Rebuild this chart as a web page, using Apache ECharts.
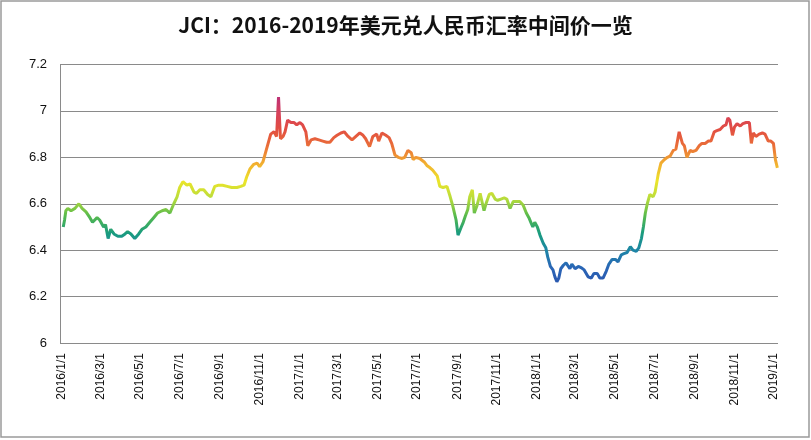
<!DOCTYPE html>
<html><head><meta charset="utf-8">
<script src="https://cdn.jsdelivr.net/npm/echarts@6/dist/echarts.min.js"></script>
<style>html,body{margin:0;padding:0;background:#fff}#c{width:811px;height:440px}</style>
</head><body><div id="c"></div><script>
const titleText = 'JCI：2016-2019年美元兑人民币汇率中间价一览';

const dates = [
'2016-01-04','2016-01-06','2016-01-08','2016-01-11','2016-01-16','2016-01-22','2016-01-28',
'2016-02-02','2016-02-08','2016-02-14','2016-02-18','2016-02-25','2016-02-29',
'2016-03-06','2016-03-09','2016-03-13','2016-03-17','2016-03-22','2016-03-28',
'2016-04-03','2016-04-08','2016-04-12','2016-04-17','2016-04-23','2016-04-29',
'2016-05-04','2016-05-10','2016-05-16','2016-05-22','2016-05-28',
'2016-06-04','2016-06-10','2016-06-16','2016-06-22','2016-06-27',
'2016-07-01','2016-07-06','2016-07-12','2016-07-17','2016-07-23','2016-07-27',
'2016-08-01','2016-08-07','2016-08-13','2016-08-18','2016-08-24','2016-08-30',
'2016-09-05','2016-09-12','2016-09-19','2016-09-27',
'2016-10-03','2016-10-08','2016-10-12','2016-10-17','2016-10-23','2016-10-28',
'2016-11-01','2016-11-06','2016-11-11','2016-11-14','2016-11-18','2016-11-23','2016-11-27','2016-11-30',
'2016-12-03','2016-12-07','2016-12-10','2016-12-14','2016-12-19','2016-12-24','2016-12-28',
'2017-01-02','2017-01-06','2017-01-11','2017-01-14','2017-01-19','2017-01-25','2017-01-31',
'2017-02-06','2017-02-12','2017-02-17','2017-02-23','2017-02-28',
'2017-03-06','2017-03-11','2017-03-17','2017-03-23','2017-03-29',
'2017-04-04','2017-04-09','2017-04-13','2017-04-16','2017-04-19','2017-04-24','2017-04-30',
'2017-05-03','2017-05-08','2017-05-14','2017-05-19','2017-05-23','2017-05-28',
'2017-06-02','2017-06-08','2017-06-12','2017-06-17','2017-06-22','2017-06-25','2017-06-29',
'2017-07-05','2017-07-12','2017-07-16','2017-07-21','2017-07-25',
'2017-08-01','2017-08-05','2017-08-10','2017-08-16','2017-08-21','2017-08-25','2017-08-30',
'2017-09-02','2017-09-07','2017-09-10','2017-09-13','2017-09-17','2017-09-20','2017-09-24','2017-09-27',
'2017-10-01','2017-10-06','2017-10-09','2017-10-12','2017-10-15','2017-10-20','2017-10-24','2017-10-29',
'2017-11-02','2017-11-07','2017-11-12','2017-11-16','2017-11-21','2017-11-26',
'2017-12-02','2017-12-06','2017-12-11','2017-12-16','2017-12-20','2017-12-23','2017-12-26','2017-12-29',
'2018-01-02','2018-01-06','2018-01-11','2018-01-15','2018-01-18','2018-01-22','2018-01-26','2018-01-29',
'2018-02-01','2018-02-04','2018-02-07','2018-02-11','2018-02-15','2018-02-18','2018-02-21','2018-02-24',
'2018-03-01','2018-03-06','2018-03-10','2018-03-15','2018-03-21','2018-03-26','2018-03-30',
'2018-04-04','2018-04-08','2018-04-13','2018-04-18','2018-04-22','2018-04-27',
'2018-05-02','2018-05-06','2018-05-11','2018-05-15','2018-05-20','2018-05-25','2018-05-29',
'2018-06-03','2018-06-07','2018-06-11','2018-06-14','2018-06-17','2018-06-20','2018-06-24','2018-06-29',
'2018-07-02','2018-07-07','2018-07-11','2018-07-16','2018-07-21','2018-07-25','2018-07-30',
'2018-08-03','2018-08-08','2018-08-13','2018-08-16','2018-08-20','2018-08-25','2018-08-29',
'2018-09-03','2018-09-08','2018-09-12','2018-09-17','2018-09-22','2018-09-26',
'2018-10-01','2018-10-05','2018-10-10','2018-10-15','2018-10-19','2018-10-22','2018-10-25','2018-10-29',
'2018-11-01','2018-11-05','2018-11-10','2018-11-14','2018-11-19','2018-11-24','2018-11-27','2018-11-30',
'2018-12-04','2018-12-09','2018-12-14','2018-12-18','2018-12-23','2018-12-27','2018-12-31',
'2019-01-03','2019-01-06'
];

const values = [
6.50,6.53,6.57,6.58,6.57,6.58,6.60,
6.58,6.565,6.54,6.52,6.54,6.53,
6.50,6.51,6.45,6.49,6.47,6.46,
6.46,6.47,6.48,6.47,6.45,6.47,
6.49,6.50,6.52,6.54,6.56,
6.57,6.575,6.56,6.60,6.63,
6.67,6.695,6.68,6.685,6.65,6.645,
6.66,6.66,6.64,6.63,6.675,6.68,
6.68,6.675,6.67,6.67,
6.675,6.68,6.715,6.75,6.77,6.775,
6.76,6.78,6.83,6.86,6.90,6.91,6.89,7.06,
6.88,6.89,6.91,6.96,6.95,6.95,6.94,
6.95,6.94,6.91,6.85,6.875,6.88,6.875,
6.87,6.865,6.865,6.885,6.895,
6.905,6.91,6.89,6.875,6.89,
6.905,6.895,6.88,6.875,6.846,6.89,6.90,
6.87,6.905,6.895,6.885,6.86,6.81,
6.80,6.795,6.80,6.83,6.82,6.79,6.80,
6.795,6.78,6.765,6.755,6.745,
6.72,6.675,6.67,6.675,6.63,6.59,6.53,
6.465,6.50,6.52,6.545,6.575,6.63,6.66,6.56,
6.59,6.645,6.64,6.57,6.60,6.64,6.645,6.62,
6.615,6.62,6.625,6.62,6.58,6.61,
6.61,6.61,6.595,6.56,6.54,6.52,6.50,6.52,
6.50,6.465,6.43,6.41,6.37,6.33,6.315,6.285,
6.264,6.28,6.32,6.335,6.345,6.34,6.32,6.34,
6.32,6.33,6.325,6.315,6.285,6.28,6.30,
6.30,6.28,6.28,6.31,6.34,6.36,
6.36,6.35,6.38,6.385,6.39,6.415,6.40,
6.395,6.41,6.45,6.50,6.56,6.60,6.64,6.63,
6.65,6.73,6.775,6.79,6.80,6.805,6.83,
6.835,6.91,6.86,6.85,6.80,6.83,6.825,
6.83,6.85,6.86,6.86,6.87,6.87,
6.91,6.915,6.92,6.935,6.94,6.97,6.96,6.895,
6.93,6.945,6.935,6.945,6.95,6.95,6.86,6.905,
6.89,6.90,6.905,6.90,6.87,6.87,6.86,
6.79,6.755
];

const labelDates = [
'2016-01-01','2016-03-01','2016-05-01','2016-07-01','2016-09-01','2016-11-01',
'2017-01-01','2017-03-01','2017-05-01','2017-07-01','2017-09-01','2017-11-01',
'2018-01-01','2018-03-01','2018-05-01','2018-07-01','2018-09-01','2018-11-01',
'2019-01-01'
];

function ts(s){ const p = s.split('-').map(Number); return new Date(p[0], p[1]-1, p[2]).getTime(); }

const chart = echarts.init(document.getElementById('c'));
chart.setOption({
  animation: false,
  backgroundColor: '#fff',
  title: {
    text: titleText, left: 'center', top: 10,
    textStyle: { fontFamily: 'Noto Sans CJK SC', fontSize: 21, fontWeight: 'bold', color: '#111' }
  },
  grid: { left: 60, right: 33, top: 64.5, bottom: 97, containLabel: false },
  xAxis: {
    type: 'value',
    min: ts('2015-12-30'), max: ts('2019-01-07'),
    axisLine: { show: false },
    axisTick: { show: false },
    splitLine: { show: false },
    axisLabel: {
      customValues: labelDates.map(ts),
      rotate: 90, margin: 10, showMinLabel: true, showMaxLabel: true,
      fontFamily: 'Liberation Sans', fontSize: 12, color: '#111',
      formatter: function (v) { const d = new Date(v); return d.getFullYear() + '/' + (d.getMonth() + 1) + '/' + d.getDate(); }
    }
  },
  yAxis: {
    type: 'value', min: 6, max: 7.2, interval: 0.2,
    axisLine: { show: true, lineStyle: { color: '#8a8a8a', width: 1 } },
    axisTick: { show: false },
    splitLine: { show: true, lineStyle: { color: '#8a8a8a', width: 1 } },
    axisLabel: { margin: 13, fontFamily: 'Liberation Sans', fontSize: 13, color: '#111' }
  },
  visualMap: {
    show: false, type: 'continuous', dimension: 1, seriesIndex: 0,
    min: 6.25, max: 7.07,
    inRange: { color: ['#2a56ae','#2a66b6','#1d86a6','#1a9c7e','#58ba4c','#b8dc3c','#ece52a','#f2b030','#ea7038','#e24e42','#d6405c','#b92f7a'] }
  },
  series: [{
    type: 'line',
    data: dates.map((d, i) => [ts(d), values[i]]),
    showSymbol: false, symbol: 'none',
    lineStyle: { width: 3 },
    z: 3
  }],
  graphic: [{
    type: 'rect', silent: true,
    shape: { x: 1, y: 1, width: 808, height: 436 },
    style: { fill: 'none', stroke: '#9a9a9a', lineWidth: 1.5 }
  }]
});
</script></body></html>
